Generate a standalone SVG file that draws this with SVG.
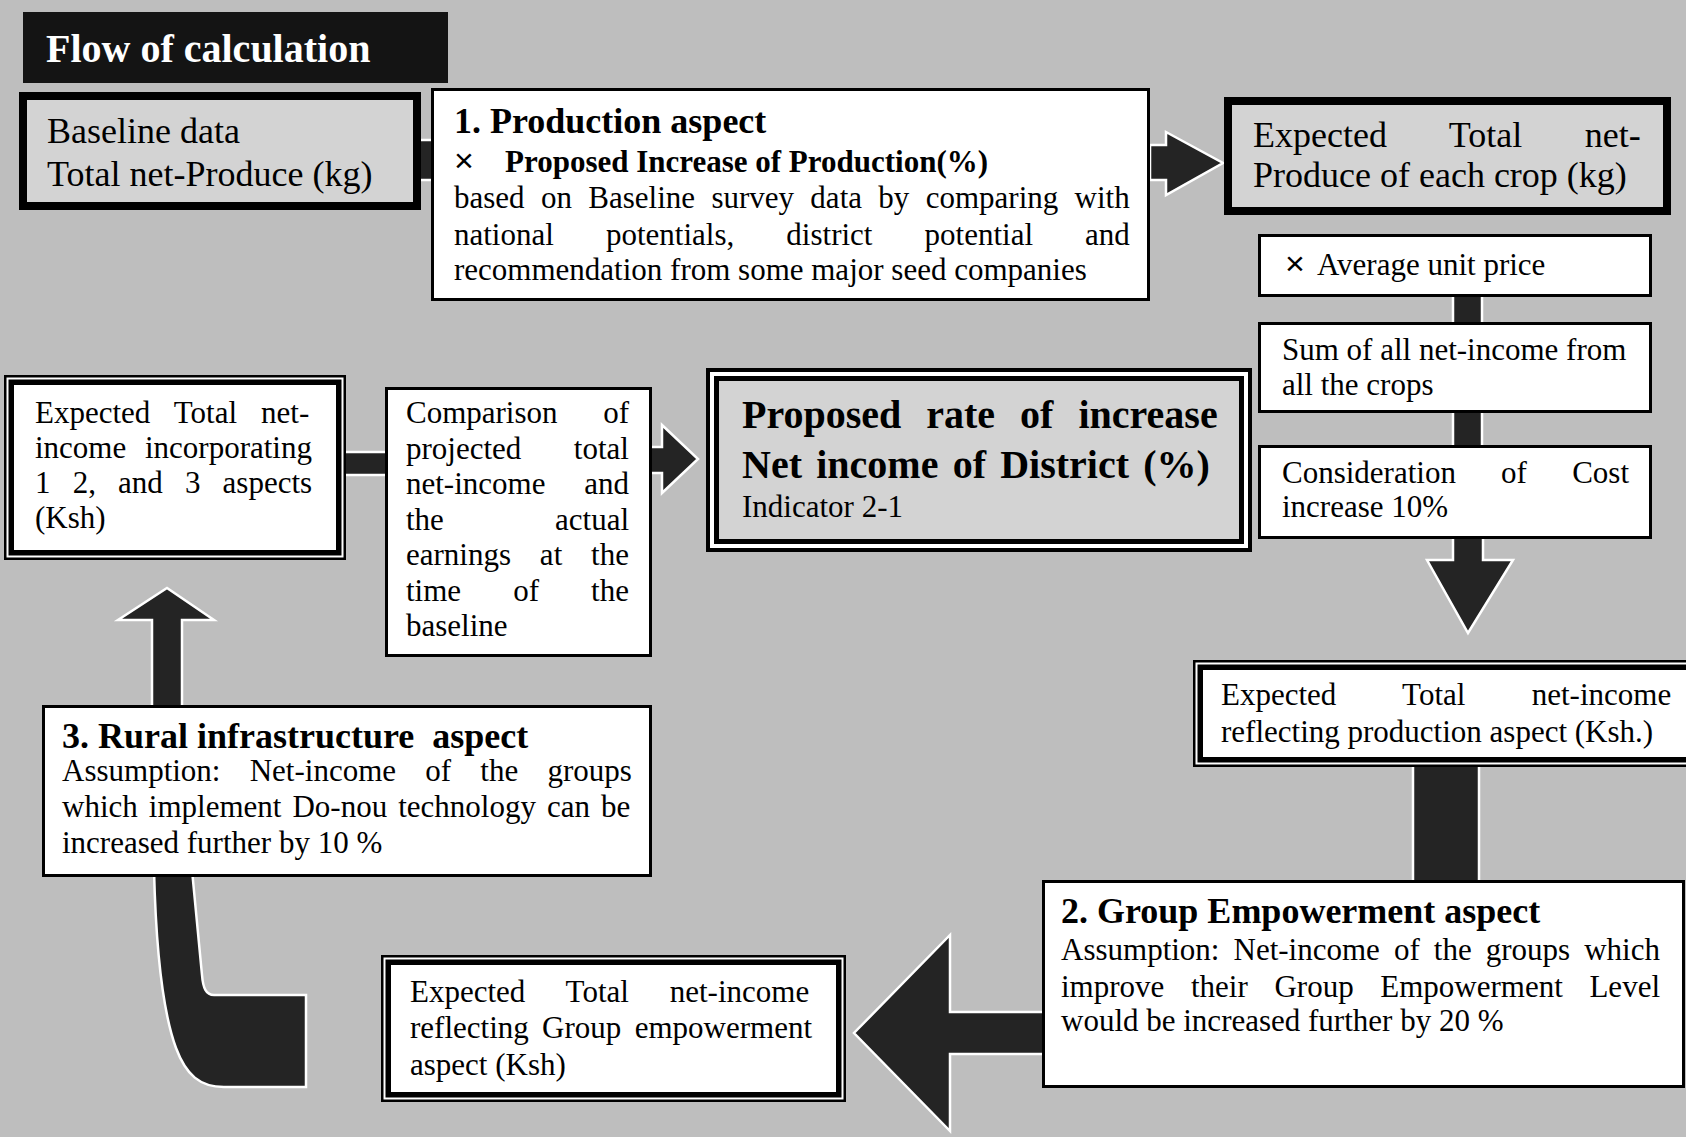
<svg xmlns="http://www.w3.org/2000/svg" width="1686" height="1137" viewBox="0 0 1686 1137">
  <defs>
    <style>
      .tx{font-family:"Liberation Serif","Times New Roman",serif;font-size:31px;fill:#000}
      .big{font-size:36px}
      .hd{font-weight:bold;font-size:36px}
      .sub{font-weight:bold;font-size:31px}
      .prop{font-weight:bold;font-size:40px}
      .ttl{font-family:"Liberation Serif","Times New Roman",serif;font-weight:bold;font-size:40px;fill:#fff}
      .x{font-family:"Liberation Sans",Arial,sans-serif;font-size:34px;fill:#000}
      .plain{fill:#fff;stroke:#000;stroke-width:3}
      .thick{fill:#d3d3d3;stroke:#000;stroke-width:8}
      .k{fill:#000}
      .w{fill:#fff}
      .g{fill:#d3d3d3}
      .arrow{fill:#242424;stroke:#fff;stroke-width:2.5;stroke-linejoin:miter}
    </style>
  </defs>

  <!-- page background -->
  <rect x="0" y="0" width="1686" height="1137" fill="#bebebe"/>

  <!-- connectors and block arrows -->
  <g id="connectors">
    <rect class="arrow" x="417" y="140" width="16" height="40"/>
    <polygon class="arrow" points="1150,145 1166,145 1166,132 1223,163 1166,195 1166,180 1150,180"/>
    <rect class="arrow" x="1453" y="295" width="29" height="29"/>
    <rect class="arrow" x="1453" y="411" width="29" height="36"/>
    <polygon class="arrow" points="1453,537 1483,537 1483,560 1513,560 1468,633 1427,560 1453,560"/>
    <rect class="arrow" x="1413" y="765" width="66" height="117"/>
    <polygon class="arrow" points="1044,1012 950,1012 950,935 854,1033 950,1131 950,1054 1044,1054"/>
    <path class="arrow" d="M154,870 C156,950 162,1010 176,1048 C186,1075 200,1087 224,1087 L306,1087 L306,995 L214,995 C206,995 203,988 202,975 L192,870 Z"/>
    <polygon class="arrow" points="152,708 152,620 118,620 167,588 214,620 182,620 182,708"/>
    <rect class="arrow" x="344" y="452" width="43" height="23"/>
    <polygon class="arrow" points="650,447 662,447 662,425 698,459 662,493 662,473 650,473"/>
  </g>

  <!-- heading bar -->
  <g id="n-title">
    <rect x="23" y="12" width="425" height="71" fill="#141414"/>
    <text class="ttl" x="46" y="62">Flow of calculation</text>
  </g>

  <g id="n-baseline">
    <rect class="thick" x="23" y="96" width="394" height="110"/>
    <text class="tx big" x="47" y="143">Baseline data</text>
    <text class="tx big" x="47" y="186">Total net-Produce (kg)</text>
  </g>

  <g id="n-production">
    <rect class="plain" x="432.5" y="89.5" width="716" height="210"/>
    <text class="tx hd" x="454" y="133">1. Production aspect</text>
    <text class="x" x="454" y="172">×</text>
    <text class="tx sub" x="505" y="172">Proposed Increase of Production(%)</text>
    <text class="tx" x="454" y="208" word-spacing="8.6">based on Baseline survey data by comparing with</text>
    <text class="tx" x="454" y="245" word-spacing="44.35">national potentials, district potential and</text>
    <text class="tx" x="454" y="280">recommendation from some major seed companies</text>
  </g>

  <g id="n-expected-produce">
    <rect class="thick" x="1228" y="101" width="439" height="110"/>
    <text class="tx big" x="1253" y="147" word-spacing="53.5">Expected Total net-</text>
    <text class="tx big" x="1253" y="187">Produce of each crop (kg)</text>
  </g>

  <g id="n-unit-price">
    <rect class="plain" x="1259.5" y="235.5" width="391" height="60"/>
    <text class="x" x="1285" y="275">×</text>
    <text class="tx" x="1317" y="275">Average unit price</text>
  </g>

  <g id="n-sum">
    <rect class="plain" x="1259.5" y="323.5" width="391" height="88"/>
    <text class="tx" x="1282" y="360">Sum of all net-income from</text>
    <text class="tx" x="1282" y="395">all the crops</text>
  </g>

  <g id="n-cost">
    <rect class="plain" x="1259.5" y="446.5" width="391" height="91"/>
    <text class="tx" x="1282" y="483" word-spacing="37.45">Consideration of Cost</text>
    <text class="tx" x="1282" y="517">increase 10%</text>
  </g>

  <g id="n-reflect-production">
    <rect class="k" x="1193" y="660" width="510" height="107"/>
    <rect class="w" x="1195.5" y="662.5" width="505" height="102"/>
    <rect class="k" x="1197.5" y="664.5" width="501" height="98"/>
    <rect class="w" x="1203" y="670" width="490" height="87"/>
    <text class="tx" x="1221" y="705" word-spacing="58.6">Expected Total net-income</text>
    <text class="tx" x="1221" y="742">reflecting production aspect (Ksh.)</text>
  </g>

  <g id="n-group-empowerment">
    <rect class="plain" x="1043.5" y="881.5" width="640" height="205"/>
    <text class="tx hd" x="1061" y="923">2. Group Empowerment aspect</text>
    <text class="tx" x="1061" y="960" word-spacing="6.3">Assumption: Net-income of the groups which</text>
    <text class="tx" x="1061" y="997" word-spacing="18.9">improve their Group Empowerment Level</text>
    <text class="tx" x="1061" y="1031">would be increased further by 20 %</text>
  </g>

  <g id="n-reflect-group">
    <rect class="k" x="381" y="955" width="465" height="147"/>
    <rect class="w" x="383.5" y="957.5" width="460" height="142"/>
    <rect class="k" x="385.5" y="959.5" width="456" height="138"/>
    <rect class="w" x="391" y="965" width="445" height="127"/>
    <text class="tx" x="410" y="1002" word-spacing="33.1">Expected Total net-income</text>
    <text class="tx" x="410" y="1038" word-spacing="5.6">reflecting Group empowerment</text>
    <text class="tx" x="410" y="1075">aspect (Ksh)</text>
  </g>

  <g id="n-rural">
    <rect class="plain" x="43.5" y="706.5" width="607" height="169"/>
    <text class="tx hd" x="62" y="748" xml:space="preserve">3. Rural infrastructure  aspect</text>
    <text class="tx" x="62" y="781" word-spacing="21.5">Assumption: Net-income of the groups</text>
    <text class="tx" x="62" y="817" word-spacing="3.3">which implement Do-nou technology can be</text>
    <text class="tx" x="62" y="853">increased further by 10 %</text>
  </g>

  <g id="n-incorporating">
    <rect class="k" x="4" y="375" width="342" height="185"/>
    <rect class="w" x="6.5" y="377.5" width="337" height="180"/>
    <rect class="k" x="8.5" y="379.5" width="333" height="176"/>
    <rect class="w" x="14" y="385" width="322" height="165"/>
    <text class="tx" x="35" y="423" word-spacing="16.25">Expected Total net-</text>
    <text class="tx" x="35" y="458" word-spacing="10.95">income incorporating</text>
    <text class="tx" x="35" y="493" word-spacing="14.4">1 2, and 3 aspects</text>
    <text class="tx" x="35" y="528">(Ksh)</text>
  </g>

  <g id="n-comparison">
    <rect class="plain" x="386.5" y="388.5" width="264" height="267"/>
    <text class="tx" x="406" y="423" word-spacing="37.9">Comparison of</text>
    <text class="tx" x="406" y="458.5" word-spacing="44.7">projected total</text>
    <text class="tx" x="406" y="494" word-spacing="31">net-income and</text>
    <text class="tx" x="406" y="529.5" word-spacing="103.4">the actual</text>
    <text class="tx" x="406" y="565" word-spacing="21.1">earnings at the</text>
    <text class="tx" x="406" y="600.5" word-spacing="44.35">time of the</text>
    <text class="tx" x="406" y="636">baseline</text>
  </g>

  <g id="n-proposed">
    <rect class="k" x="706" y="368" width="546" height="184"/>
    <rect class="w" x="710" y="372" width="538" height="176"/>
    <rect class="k" x="714" y="376" width="530" height="168"/>
    <rect class="g" x="719" y="381" width="520" height="158"/>
    <text class="tx prop" x="742" y="428" word-spacing="15">Proposed rate of increase</text>
    <text class="tx prop" x="742" y="478" word-spacing="4.25">Net income of District (%)</text>
    <text class="tx" x="742" y="517" font-size="35">Indicator 2-1</text>
  </g>
</svg>
